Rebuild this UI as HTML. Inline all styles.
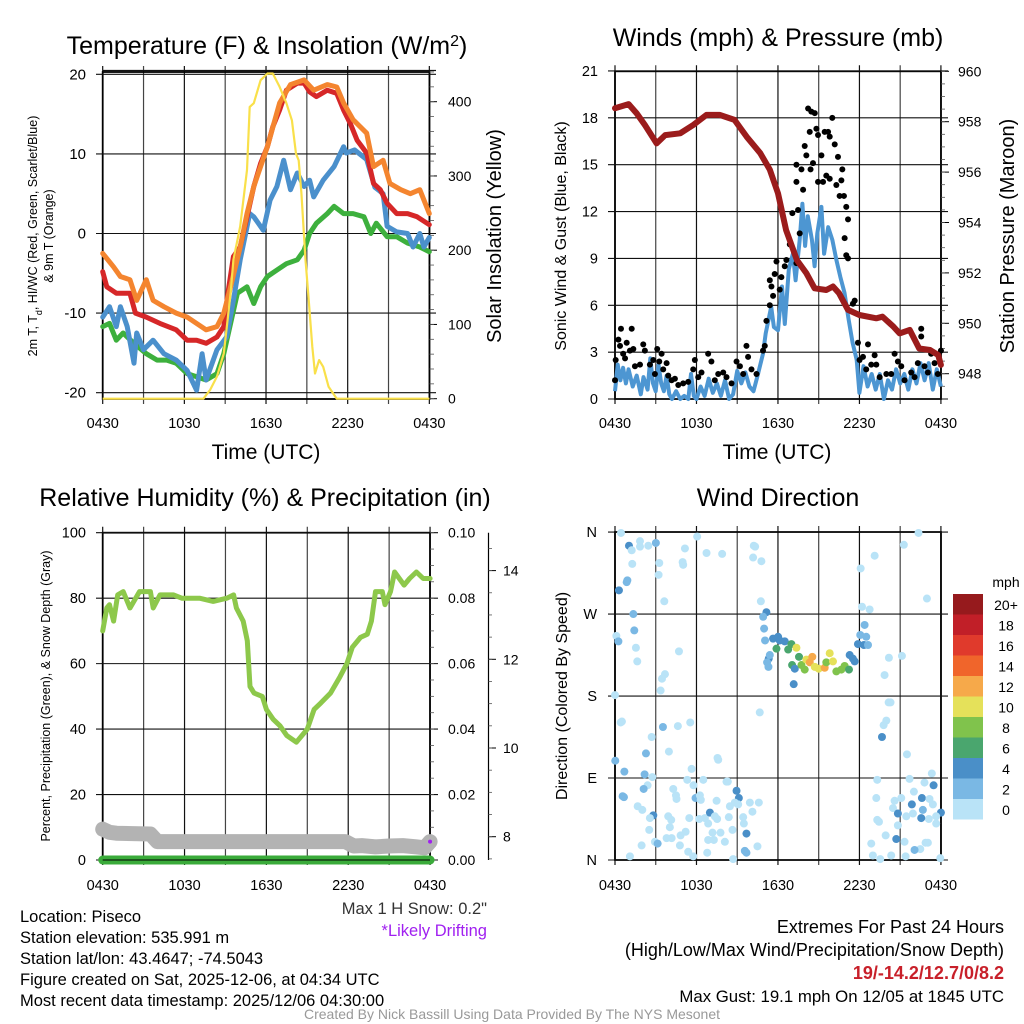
<!DOCTYPE html>
<html><head><meta charset="utf-8">
<style>
html,body{margin:0;padding:0;background:#fff;}
svg{display:block;font-family:"Liberation Sans",Arial,sans-serif;}
</style></head>
<body>
<svg id="chart" width="1024" height="1024" viewBox="0 0 1024 1024" xmlns="http://www.w3.org/2000/svg">
<rect x="0" y="0" width="1024" height="1024" fill="#fff"/>
<g id="layer"></g>
<!-- titles -->
<text x="267" y="54" font-size="25" text-anchor="middle">Temperature (F) &amp; Insolation (W/m<tspan baseline-shift="super" font-size="16">2</tspan>)</text>
<text x="778" y="46" font-size="25" text-anchor="middle">Winds (mph) &amp; Pressure (mb)</text>
<text x="265" y="506" font-size="25" text-anchor="middle">Relative Humidity (%) &amp; Precipitation (in)</text>
<text x="778" y="506" font-size="25" text-anchor="middle">Wind Direction</text>
<!-- axis titles -->
<text x="266" y="459" font-size="21" text-anchor="middle">Time (UTC)</text>
<text x="777" y="459" font-size="21" text-anchor="middle">Time (UTC)</text>
<text transform="translate(37,236) rotate(-90)" font-size="12.5" text-anchor="middle">2m T, T<tspan baseline-shift="sub" font-size="9">d</tspan>, HI/WC (Red, Green, Scarlet/Blue)</text>
<text transform="translate(53,236) rotate(-90)" font-size="12.5" text-anchor="middle">&amp; 9m T (Orange)</text>
<text transform="translate(501,236) rotate(-90)" font-size="20" text-anchor="middle">Solar Insolation (Yellow)</text>
<text transform="translate(566,236) rotate(-90)" font-size="16" text-anchor="middle">Sonic Wind &amp; Gust (Blue, Black)</text>
<text transform="translate(1014,236) rotate(-90)" font-size="20" text-anchor="middle">Station Pressure (Maroon)</text>
<text transform="translate(50,696) rotate(-90)" font-size="12.5" text-anchor="middle">Percent, Precipitation (Green), &amp; Snow Depth (Gray)</text>
<text transform="translate(567,696) rotate(-90)" font-size="16" text-anchor="middle">Direction (Colored By Speed)</text>
<!-- footer texts -->
<g font-size="16.5">
<text x="20" y="922">Location: Piseco</text>
<text x="20" y="943">Station elevation: 535.991 m</text>
<text x="20" y="964">Station lat/lon: 43.4647; -74.5043</text>
<text x="20" y="985">Figure created on Sat, 2025-12-06, at 04:34 UTC</text>
<text x="20" y="1006">Most recent data timestamp: 2025/12/06 04:30:00</text>
</g>
<text x="487" y="914" font-size="16.5" text-anchor="end" fill="#333">Max 1 H Snow: 0.2"</text>
<text x="487" y="936" font-size="16.5" text-anchor="end" fill="#a020f0">*Likely Drifting</text>
<text x="1004" y="933" font-size="18" text-anchor="end">Extremes For Past 24 Hours</text>
<text x="1004" y="956" font-size="18" text-anchor="end">(High/Low/Max Wind/Precipitation/Snow Depth)</text>
<text x="1004" y="979" font-size="18" font-weight="bold" text-anchor="end" fill="#c8202a">19/-14.2/12.7/0/8.2</text>
<text x="1004" y="1002" font-size="16.8" text-anchor="end">Max Gust: 19.1 mph On 12/05 at 1845 UTC</text>
<text x="512" y="1019" font-size="14" text-anchor="middle" fill="#999">Created By Nick Bassill Using Data Provided By The NYS Mesonet</text>
</svg>
<script>
// ---------- Panel 1: temperature ----------
const redHours=[0,0.3,1.0,2.0,2.4,3.2,4.2,5.4,6.2,6.9,7.6,8.4,8.9,9.2,9.6,10.1,10.6,11.1,11.6,12.1,12.5,13.0,13.5,14.3,14.8,15.2,15.7,16.5,17.2,17.7,18.2,18.7,19.4,19.9,20.4,20.9,21.6,22.4,23.1,24];
const redTemp=[-4.8,-6.7,-7.5,-7.5,-10,-10.5,-11.3,-12.1,-13.4,-13.4,-13.8,-13,-11.7,-7.5,-2.9,-1.7,2.1,5.9,8.8,10.9,13.4,15.5,18,18.9,18.9,17.8,17.2,18,17.6,15.5,13.8,11.7,10.1,6.3,5.5,3.8,2.5,2.5,2.1,1.1];
const orangeHours=[0,0.8,1.3,2.0,2.5,3.2,3.7,4.5,5.4,6.2,6.9,7.6,8.4,8.9,9.4,10.1,10.6,11.1,12.1,13.0,13.8,14.8,15.5,16.5,17.2,17.7,18.4,19.4,19.9,20.6,21.1,21.9,22.6,23.3,24];
const orangeTemp=[-2.5,-4.2,-5.4,-5.8,-8.4,-5.8,-8.4,-9.2,-10,-10.5,-11.3,-12.1,-11.7,-10,-6.7,-1.7,2.5,5.9,10.9,16.4,18.7,19.3,18,18.7,18.4,16.4,14.3,12.6,8.4,9.2,6.3,5.5,5.0,5.5,2.5];
const blueHours=[0,0.5,1.0,1.3,1.8,2.3,2.5,3.0,3.7,4.5,5.4,6.2,6.9,7.3,7.6,8.4,9.1,9.6,10.1,10.8,11.1,11.8,12.3,12.8,13.3,13.8,14.3,14.8,15.2,15.5,16.2,17.0,17.7,17.9,18.5,19.4,20.0,20.6,20.9,21.6,22.4,22.8,23.3,23.6,24];
const blueTemp=[-10.5,-9.2,-11.7,-9.2,-11.7,-16.3,-12.5,-14.6,-13.4,-15.1,-15.9,-17.2,-19.7,-15.1,-18.4,-14.6,-13,-8.4,-3.3,2.5,2.1,0.4,4.2,5.9,9.2,5.5,7.6,5.9,6.7,4.6,6.7,8.4,10.9,10.1,10.5,9.3,5.8,5.0,0.9,0.2,0,-1.7,0,-1.7,-0.5];
const greenHours=[0,0.5,1.0,1.5,2.3,3.2,4.0,4.7,5.4,6.2,6.9,7.6,8.4,8.9,9.4,9.9,10.6,11.1,11.6,12.1,12.8,13.5,14.3,14.8,15.2,15.7,16.5,17.0,17.7,18.4,19.2,19.7,20.1,20.9,21.6,22.4,23.3,24];
const greenTemp=[-11.7,-11.3,-13.4,-12.5,-13.8,-15.1,-15.9,-15.9,-16.3,-17.6,-18,-18.4,-17.6,-15.1,-11.3,-7.5,-6.7,-8.8,-6.7,-5.4,-4.6,-3.8,-3.3,-2.1,0,1.3,2.5,3.4,2.5,2.5,2.1,0,1.3,-0.4,-0.4,-1.2,-1.7,-2.3];
const solarHours=[0,7.4,7.9,8.4,8.9,9.4,9.6,10.1,10.6,10.8,11.1,11.6,12.1,12.5,13.0,13.5,13.9,14.2,14.4,14.6,14.9,15.1,15.4,15.6,15.9,16.2,16.6,17.2,24];
const solarWm2=[0,0,12,30,61,142,187,232,308,393,398,429,438,438,420,398,375,330,321,277,187,142,70,34,52,43,16,0,0];
const tempTicks=[-20,-10,0,10,20];
const solarTicks=[0,100,200,300,400];
const timeTickLabels=["0430","1030","1630","2230","0430"];

// ---------- Panel 2: winds ----------
const windHours=[0,0.2,0.4,0.6,0.8,1.0,1.3,1.6,1.9,2.1,2.4,2.6,2.8,3.0,3.2,3.4,3.6,3.8,4.0,4.2,4.5,4.8,5.1,5.4,5.6,5.8,6.0,6.3,6.6,6.9,7.2,7.5,7.8,8.1,8.4,8.7,9.0,9.3,9.6,9.9,10.2,10.5,10.9,11.1,11.5,11.7,12.0,12.3,12.5,12.8,13.1,13.3,13.6,13.8,14.0,14.2,14.5,14.7,14.9,15.2,15.4,15.7,16.0,16.3,16.6,16.9,17.2,17.5,17.8,18.0,18.3,18.6,18.9,19.2,19.5,19.8,20.1,20.4,20.7,21.0,21.3,21.6,21.9,22.2,22.5,22.8,23.1,23.4,23.7,24];
const windSpeed=[0.5,2.2,1.2,2.0,1.0,1.9,0.8,1.5,0.3,1.4,0.6,2.6,1.0,0.5,2.2,1.0,0.5,1.5,0.3,0,0.5,0,0.2,0,1.6,0.2,0,0.8,0.2,1.3,0.4,1.0,0.2,1.2,0,0.3,1.8,1.0,1.7,0.8,0.5,1.5,2.9,4.2,5.9,4.6,4.4,7.2,4.8,8.3,9.3,7.6,10.2,12.5,9.8,11.7,10.2,8.5,10.6,12.3,9.3,11,10.2,8.9,7.8,6.8,5.1,3.6,2.5,0.4,2.1,0.8,1.6,0.6,1.6,0,1.2,0.6,1.9,1.0,1.6,0.6,1.9,1.0,2.3,1.2,2.3,0.6,1.9,0.8];
const gustHours=[0,0.05,0.25,0.44,0.37,0.6,0.86,0.74,1.23,1.1,1.35,1.47,1.84,2.08,2.2,2.57,2.82,2.94,3.11,3.26,3.43,3.55,3.8,3.92,4.17,4.41,4.66,5.02,5.39,5.88,5.76,6.13,6.37,6.86,7.1,7.35,7.6,7.97,8.21,8.58,8.95,9.2,9.44,9.68,9.8,10.05,10.42,10.9,11.03,11.15,11.4,11.64,11.4,11.52,11.76,11.89,12.13,12.25,12.5,12.62,12.87,13.06,13.36,13.48,13.6,13.36,13.36,13.73,13.85,13.97,14.09,14.22,14.46,14.71,14.34,14.83,14.95,14.58,14.4,14.95,15.2,15.32,15.44,15.69,15.81,16,15.56,15.81,16.18,16.42,16.3,16.74,16.67,16.54,16.86,17.03,17.16,16.91,17.03,17.16,17.65,17.52,17.89,18.01,18.26,18.5,18.63,18.87,19.12,19.24,19.49,19.98,20.34,20.59,20.83,21.08,21.32,21.81,22.06,22.3,22.55,22.55,22.79,23.04,23.28,23.53,23.77,24];
const gustSpeed=[1.2,2.5,3.8,4.5,3.4,2.9,3.6,2.6,4.5,3.1,3.2,2.1,2.2,3.5,3.1,2.2,2.5,1.6,3.2,2.4,2.9,1.9,2.3,1.5,1.2,1.3,0.9,1.0,1.1,2.5,1.9,1.4,1.7,2.9,2.4,1.2,1.6,1.7,1.4,1.0,2.4,2.1,1.6,3.4,2.7,1.9,1.6,3.1,3.4,5.0,6.0,6.6,7.6,7.2,8.0,8.8,7.0,7.8,8.5,8.9,9.9,11.9,8.7,12.1,10.6,13.9,15.0,14.7,13.4,16.2,15.6,18.6,18.4,18.3,17.1,17.3,16.9,15.1,14.7,13.9,15.6,13.9,17.1,17.1,16.8,18.0,14.3,14.1,16.3,15.5,13.7,14.7,14.0,13.0,13.0,12.3,11.5,10.3,9.2,9.0,6.3,6.1,3.6,2.5,2.7,1.9,3.5,2.2,2.8,2.2,1.4,1.6,1.6,2.9,2.4,2.1,1.2,1.7,1.4,2.3,4.5,4.0,2.1,1.7,2.9,2.3,1.6,3.1];
const pressHours=[0,1.0,1.6,2.2,3.06,3.7,4.8,5.76,6.74,7.7,8.8,9.7,10.7,11.4,12,12.6,13.4,14.1,14.7,15.56,16.05,16.5,17.16,18,19.24,19.7,20.5,20.96,21.7,22.4,23.2,23.8,24];
const pressMb=[958.53,958.7,958.33,957.87,957.14,957.47,957.54,957.87,958.27,958.27,958.07,957.4,956.75,956.1,955.16,953.7,952.5,951.98,951.39,951.32,951.46,951.19,950.53,950.33,950.2,950.26,949.87,949.6,949.74,949.0,948.94,948.74,948.35];
const windTicks=[0,3,6,9,12,15,18,21];
const pressTicks=[948,950,952,954,956,958,960];

// ---------- Panel 3: humidity ----------
const rhHours=[0,0.3,0.5,0.8,1.1,1.5,2.0,2.7,3.5,3.7,4.2,5.2,5.8,7.1,8.1,9.1,9.6,9.8,10.3,10.6,10.8,11.1,11.7,12.0,12.5,13.0,13.5,14.2,15.0,15.5,16.0,16.7,17.4,17.9,18.3,18.9,19.4,19.7,20.0,20.5,20.7,21.1,21.4,22.1,22.5,23.0,23.5,24];
const rhPct=[70,77,78,73,81,82,77,82,82,77,81,81,80,80,79,80,81,77,73,67,53,51,50,46,43,41,38,36,40,46,48,51,56,60,65,68,69,73,82,82,78,82,88,84,86,88,86,86];
const precipHours=[0,24];
const precipIn=[0,0];
const snowHours=[0,0.5,1.0,3.5,4.0,17.8,18.4,19.0,20,21,22,23,23.6,24];
const snowDepth=[8.17,8.1,8.08,8.06,7.89,7.89,7.79,7.8,7.77,7.79,7.8,7.77,7.75,7.89];
const rhTicks=[0,20,40,60,80,100];
const precipTickLabels=["0.00","0.02","0.04","0.06","0.08","0.10"];
const snowTicks=[8,10,12,14];

// ---------- Panel 4: wind direction ----------
const dirHours=[0.44,1.03,1.23,1.84,1.84,2.45,3.01,1.27,0.91,0.86,0.29,1.35,1.42,0.1,0.25,1.54,1.64,3.26,3.21,3.63,5.15,4.98,5.02,6.05,6.74,7.89,4.71,3.68,3.46,3.36,0,0.42,0.51,3.53,4.63,5.54,2.7,2.28,3.97,0.02,0.69,2.18,2.75,2.4,2.11,0.56,0.66,1.67,2.01,2.82,2.57,2.52,2.94,3.14,1.96,1.1,4.29,4.49,4.53,3.92,4.14,4.04,3.8,4.17,4.83,5.2,4.78,5.39,5.76,5.32,5.64,5.78,6.5,5.93,6.25,6.32,5.47,6.2,6.62,6.86,6.99,7.35,7.52,7.18,7.77,8.09,6.86,7.28,6.79,7.48,7.6,7.55,8.21,8.31,8.95,9.12,8.82,8.46,8.38,8.65,9.44,9.49,9.07,9.68,9.93,10.12,10.59,10.49,9.56,9.68,8.7,10.22,10.32,10.78,10.17,10.74,10.66,11.15,10.91,10.98,11.05,11.32,11.2,11.3,11.4,11.64,12.01,11.89,12.13,12.5,12.99,12.75,13.36,13.04,13.24,13.55,13.73,13.97,14.09,14.34,14.53,14.71,15,15.44,15.56,15.81,16.05,16.3,16.67,16.91,17.23,17.28,17.52,17.65,17.89,18.06,18.33,18.63,18.5,13.16,18.09,18.19,18.75,19.12,18.38,20.17,21.13,19.85,20.15,20.29,19.98,19.78,19.66,21.5,21.27,22.35,22.97,23.33,21.69,22.79,23.46,19.31,19.24,20.59,21.08,22.01,22.6,23.16,23.41,21.86,20.47,20.83,21.45,21.94,22.67,24.0,23.65,23.11,22.55,23.65,19.31,19.44,20.83,19.93,20.71,21.32,22.87,23.04,22.48,22.06,18.87,18.99,19.53,20.34,21.4,23.95];
const dirDeg=[359,345,340,350,344,345,348,325,307,305,296,270,252,246,240,233,218,326,313,284,342,327,324,355,337,336,229,204,199,186,181,151,152,146,147,151,135,117,119,109,97,94,91,82,78,70,69,59,55,49,46,33,20,18,16,4,78,71,67,48,44,36,24,24,27,31,16,9,4,88,100,82,88,68,71,66,46,45,46,40,52,48,45,30,30,20,22,22,8,65,110,112,86,86,76,68,63,59,47,33,47,40,61,29,63,53,63,15,10,8,1,345,344,328,332,284,162,272,267,254,241,221,217,212,225,243,245,232,241,240,237,231,233,214,210,223,214,209,220,217,223,212,210,211,217,227,218,207,209,213,209,225,221,218,237,247,236,236,245,193,320,278,275,334,258,222,224,203,173,173,153,148,135,116,346,359,287,95,89,85,82,88,68,65,68,75,68,67,61,61,57,51,48,51,55,52,48,45,46,40,44,42,38,27,23,20,19,19,12,11,18,5,1,5,4,2];
const dirSpeed=[1,4,1,1,1,1,3,1,3,3,4,3,3,1,3,1,1,1,1,1,1,1,1,1,1,1,1,1,1,1,1,1,1,3,1,1,1,3,1,3,3,3,1,1,3,3,3,1,1,4,1,1,1,3,1,1,1,1,1,1,1,1,1,1,1,1,1,1,1,1,1,1,1,3,1,1,1,1,1,1,4,1,1,1,1,1,1,1,1,1,1,1,1,1,4,4,1,1,1,1,1,1,1,4,1,1,1,1,3,3,1,1,1,1,1,1,1,4.5,3,3,3,4.5,3,3,3,5,5,7,5,5,7,7,11,7,5,7,9,9,11,13,13,11,11,13,9,11,11,9,9,9,7,5,5,5,5,3,5,3,3,5,1,1,1,1,3,1,1,1,1,1,1,1,4.5,1,1,1,1,1,1,1,4.5,1,1,1,1,1,4.5,1,1,4.5,1,4.5,1,1,3,4.5,1,1,4.5,1,1,1,1,1,4.5,1,1,1,1,3,1,1,1,1,1,1,1];
const dirTickLabels=["N","E","S","W","N"];
const speedBins=[0,2,4,6,8,10,12,14,16,18,20];
const speedBinLabels=["0","2","4","6","8","10","12","14","16","18","20+"];
const speedColors=["#b9e3f7","#7ab8e4","#4a8fc8","#4aa66e","#80c34c","#e5e15a","#f6a94a","#f0652b","#e03a2c","#c11f28","#961a1d"];

// ---------- helpers ----------
const NS="http://www.w3.org/2000/svg";
const layer=document.getElementById('layer');
function mk(tag,attrs,parent){const e=document.createElementNS(NS,tag);for(const k in attrs)e.setAttribute(k,attrs[k]);(parent||layer).appendChild(e);return e;}
function txt(x,y,s,size,anchor,parent){const t=mk('text',{x:x,y:y,'font-size':size,'text-anchor':anchor||'middle'},parent);t.textContent=s;return t;}
function pts(xs,ys,fx,fy){return xs.map((h,i)=>fx(h).toFixed(1)+','+fy(ys[i]).toFixed(1)).join(' ');}

// scales
const X1=h=>102.7+h*13.61, YT=t=>74.3+(20-t)*7.96, YI=v=>398.7-v*0.7425;
const X2=h=>615+h*13.58, YW=w=>399-w*15.62, YP=p=>71.3+(960-p)*25.2;
const X3=h=>102.7+h*13.64, YR=r=>860-r*3.273, YS=d=>836.7-(d-8)*44.35;
const X4=h=>615+h*13.58, YD=d=>860-d*0.911;

function frame(x0,x1,y0,y1,fx,name,labelY){
  const g=mk('g',{});
  
  
  for(let h=0;h<=24;h+=3){mk('line',{x1:fx(h),x2:fx(h),y1:y0-6,y2:y1+5,stroke:(h%6?'#444':'#111'),'stroke-width':1.2},g);}
  mk('rect',{x:x0,y:y0,width:x1-x0,height:y1-y0,fill:'none',stroke:'#000','stroke-width':1.8},g);
  const lg=mk('g',{});
  
  
  timeTickLabels.forEach((s,i)=>txt(fx(i*6),labelY,s,14.5,'middle',lg));
  return g;
}

// ---------- Panel 1 ----------
(function(){
  const g=frame(102.7,429.5,72,399,X1,'temperature',428);
  tempTicks.forEach(t=>{mk('line',{x1:96,x2:436,y1:YT(t),y2:YT(t),stroke:'#111','stroke-width':1.1},g);});
  mk('line',{x1:102.7,x2:436,y1:70.5,y2:70.5,stroke:'#111','stroke-width':1.2},g);
  const lt=mk('g',{});
  
  
  tempTicks.forEach(t=>txt(86,YT(t)+5,String(t),15,'end',lt));
  const rt=mk('g',{});
  
  
  solarTicks.forEach(v=>{txt(448,YI(v)+5,String(v),14,'start',rt);mk('line',{x1:429.5,x2:437,y1:YI(v),y2:YI(v),stroke:'#000'},rt);});
  for(let v=0;v<=440;v+=20){mk('line',{x1:429.5,x2:434,y1:YI(v),y2:YI(v),stroke:'#555','stroke-width':0.8},rt);}
  const series=[[greenHours,greenTemp,'#3db03d','wind-chill-line'],[blueHours,blueTemp,'#4b90cc','dewpoint-line'],[redHours,redTemp,'#d62728','temperature-2m-line'],[orangeHours,orangeTemp,'#f4852f','temperature-9m-line']];
  series.forEach(s=>{
    const p=mk('polyline',{points:pts(s[0],s[1],X1,YT),fill:'none',stroke:s[2],'stroke-width':5,'stroke-linejoin':'round','stroke-linecap':'round'});
    
    
  });
  const sp=mk('polyline',{points:pts(solarHours,solarWm2,X1,YI),fill:'none',stroke:'#f9e04a','stroke-width':2.2,'stroke-linejoin':'round'});
  
  
})();

// ---------- Panel 2 ----------
(function(){
  const g=frame(615,941,71.3,399,X2,'winds',428);
  windTicks.forEach(w=>{mk('line',{x1:608,x2:948,y1:YW(w),y2:YW(w),stroke:'#111','stroke-width':1.1},g);});
  const lt=mk('g',{});
  
  
  windTicks.forEach(w=>txt(598,YW(w)+5,String(w),14.5,'end',lt));
  const rt=mk('g',{});
  
  
  pressTicks.forEach(p=>{txt(958,YP(p)+5,String(p),14,'start',rt);mk('line',{x1:941,x2:949,y1:YP(p),y2:YP(p),stroke:'#000'},rt);});
  for(let p=947.5;p<=960;p+=0.5){mk('line',{x1:941,x2:945,y1:YP(p),y2:YP(p),stroke:'#555','stroke-width':0.8},rt);}
  const wl=mk('polyline',{points:pts(windHours,windSpeed,X2,YW),fill:'none',stroke:'#4d96d2','stroke-width':4,'stroke-linejoin':'round'});
  
  
  const gg=mk('g',{fill:'#000'});
  
  
  gustHours.forEach((h,i)=>mk('circle',{cx:X2(h),cy:YW(gustSpeed[i]),r:3},gg));
  const pl=mk('polyline',{points:pts(pressHours,pressMb,X2,YP),fill:'none',stroke:'#9b1c1c','stroke-width':6,'stroke-linejoin':'round','stroke-linecap':'round'});
  
  
})();

// ---------- Panel 3 ----------
(function(){
  const g=frame(102.7,430,532.7,860,X3,'humidity',890);
  rhTicks.forEach(r=>{mk('line',{x1:96,x2:438,y1:YR(r),y2:YR(r),stroke:'#111','stroke-width':1.1},g);});
  const lt=mk('g',{});
  
  
  rhTicks.forEach(r=>txt(86,YR(r)+5,String(r),14.5,'end',lt));
  const rt=mk('g',{});
  
  
  precipTickLabels.forEach((s,i)=>txt(448,YR(rhTicks[i])+5,s,14,'start',rt));
  for(let r=0;r<=100;r+=5){mk('line',{x1:430,x2:434,y1:YR(r),y2:YR(r),stroke:'#555','stroke-width':0.8},rt);}
  const st=mk('g',{});
  
  
  mk('line',{x1:488.5,x2:488.5,y1:532.7,y2:860,stroke:'#000','stroke-width':1.2},st);
  snowTicks.forEach(d=>{mk('line',{x1:488.5,x2:496,y1:YS(d),y2:YS(d),stroke:'#000'},st);txt(503,YS(d)+5,String(d),14,'start',st);});
  for(let d=7.5;d<=14.8;d+=0.5){mk('line',{x1:488.5,x2:492,y1:YS(d),y2:YS(d),stroke:'#555','stroke-width':0.8},st);}
  const sl=mk('polyline',{points:pts(snowHours,snowDepth,X3,YS),fill:'none',stroke:'#b3b3b3','stroke-width':15,'stroke-linejoin':'round','stroke-linecap':'round'});
  
  
  const pr=mk('polyline',{points:pts(precipHours,precipIn.map(v=>v*1000),X3,YR),fill:'none',stroke:'#3aab3a','stroke-width':9,'stroke-linecap':'round'});
  
  
  mk('line',{x1:102.7,x2:430,y1:860,y2:860,stroke:'#000','stroke-width':1});
  const rl=mk('polyline',{points:pts(rhHours,rhPct,X3,YR),fill:'none',stroke:'#8dc84b','stroke-width':5,'stroke-linejoin':'round','stroke-linecap':'round'});
  
  
  const dm=mk('circle',{cx:X3(24),cy:YS(7.89),r:2,fill:'#a020f0'});
  
  
})();

// ---------- Panel 4 ----------
(function(){
  const g=frame(615,941,532,860,X4,'direction',890);
  [0,90,180,270,360].forEach(d=>{mk('line',{x1:608,x2:948,y1:YD(d),y2:YD(d),stroke:'#111','stroke-width':1.1},g);});
  const lt=mk('g',{});
  
  
  dirTickLabels.forEach((s,i)=>txt(597,YD(i*90)+5,s,14.5,'end',lt));
  const pg=mk('g',{});
  
  
  dirHours.forEach((h,i)=>{
    const s=dirSpeed[i];
    let b=0;for(let k=0;k<speedBins.length;k++){if(s>=speedBins[k])b=k;}
    mk('circle',{cx:X4(h),cy:YD(dirDeg[i]),r:4,fill:speedColors[b]},pg);
  });
  const cb=mk('g',{});
  
  
  txt(1006,587,'mph',14,'middle',cb);
  speedBins.forEach((v,k)=>{
    const y=594+(10-k)*20.5;
    mk('rect',{x:953,y:y,width:30,height:20.5,fill:speedColors[k]},cb);
    txt(1006,y+16,speedBinLabels[k],14,'middle',cb);
  });
})();
</script>
</body></html>
